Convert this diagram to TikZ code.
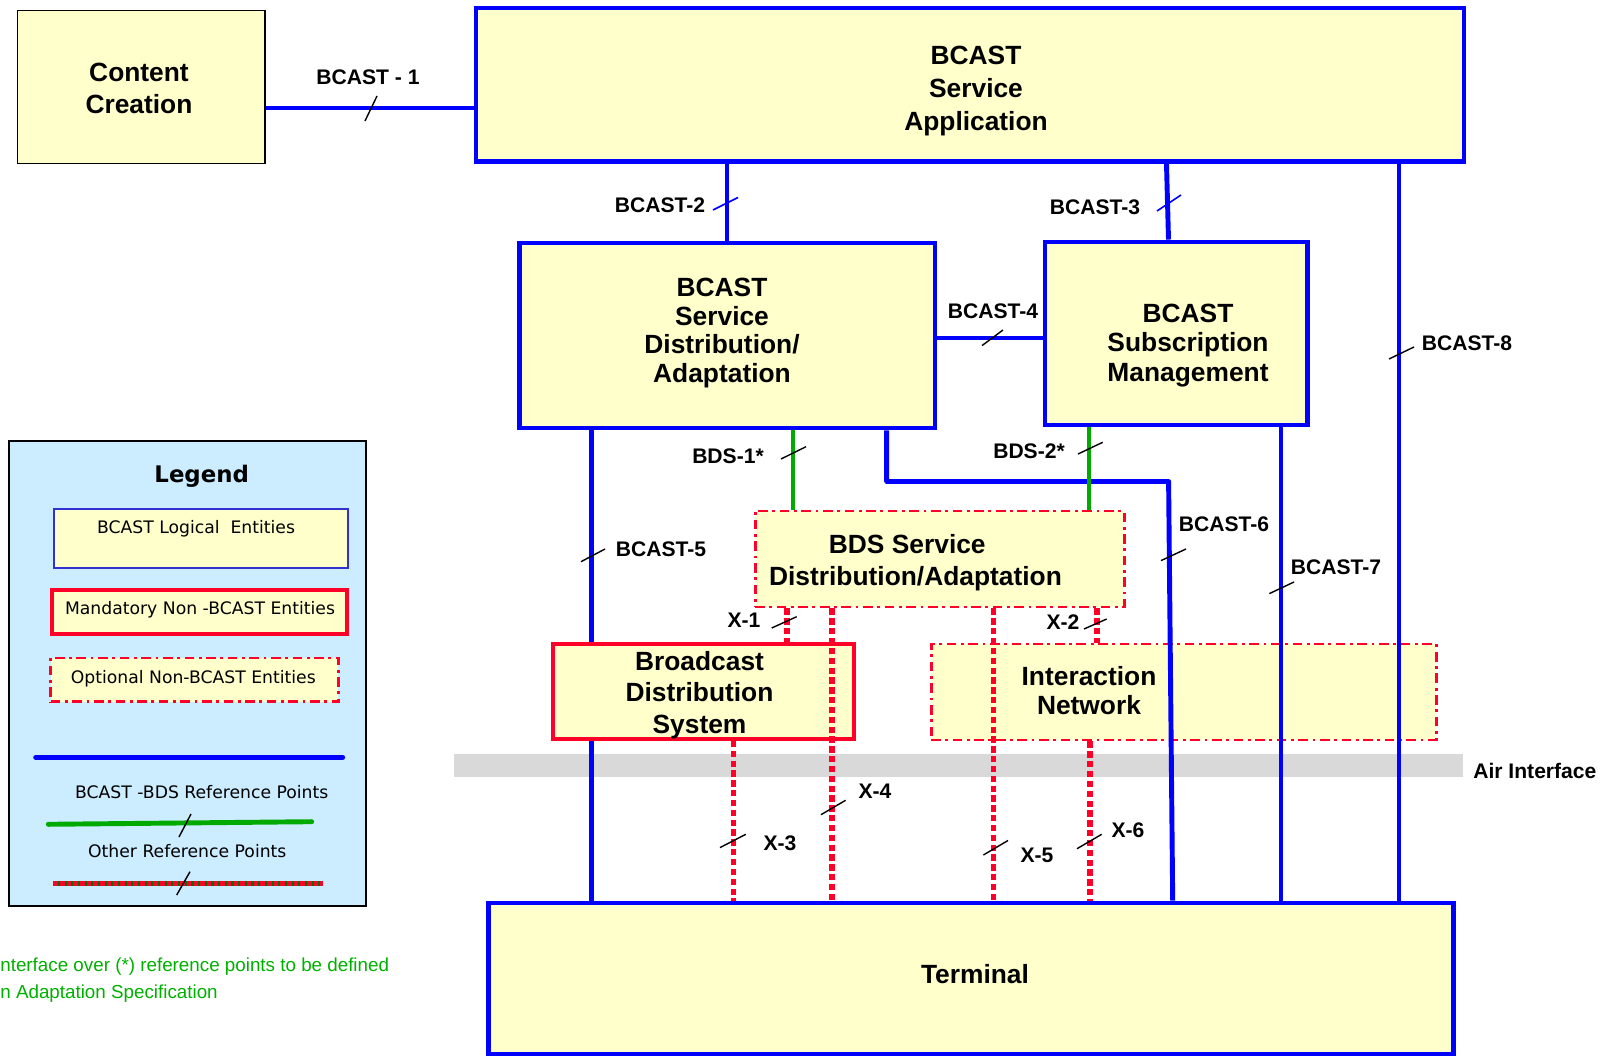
\documentclass[tikz,border=0pt]{standalone}
\usepackage{fontspec}
\setmainfont{Liberation Sans}
\newfontfamily\legfont{DejaVu Sans}
\usetikzlibrary{fit,calc}
\definecolor{bblue}{RGB}{0,0,255}
\definecolor{byel}{RGB}{255,255,204}
\definecolor{bred}{RGB}{255,0,40}
\definecolor{bgreen}{RGB}{0,170,0}
\definecolor{lgblue}{RGB}{204,236,255}
\definecolor{agray}{RGB}{217,217,217}
\definecolor{ngreen}{RGB}{0,176,0}
\definecolor{lgb}{RGB}{50,50,210}
\definecolor{dgreen}{RGB}{0,110,0}
\begin{document}
\begin{tikzpicture}[x=0.02cm,y=-0.02cm,
 ent/.style={draw=bblue, fill=byel, line width=2.8pt, inner sep=0pt},
 mand/.style={draw=bred, fill=byel, line width=2.2pt, inner sep=0pt},
 opt/.style={draw=bred, fill=byel, line width=1.7pt, dash pattern=on 5.5pt off 2.6pt on 1.6pt off 2.6pt, inner sep=0pt},
 bl/.style={draw=bblue, line width=2.8pt},
 gr/.style={draw=bgreen, line width=2.8pt},
 rd/.style={draw=bred, line width=2.9pt, dash pattern=on 3.6pt off 2pt},
 tk/.style={black, line width=0.8pt},
 lbl/.style={font=\fontsize{12}{14}\selectfont\bfseries, inner sep=0pt},
 ttl/.style={align=center, inner sep=0pt},
 legtxt/.style={font=\legfont\fontsize{9.8}{12}\selectfont, inner sep=0pt},
]
\useasboundingbox (0,0) rectangle (1613,1057);

% air interface band
\fill[agray] (454,754) rectangle (1463,777);
\node[lbl, anchor=west] (air) at (1473,770.5) {Air Interface};

% legend
\node[draw=black, fill=lgblue, line width=1.2pt, inner sep=0pt, fit={(9,441) (365.7,906)}] (leg) {};
\node[font=\legfont\bfseries\fontsize{13}{15}\selectfont, inner sep=0pt] (legt) at (201.7,476) {Legend};
\node[draw=lgb, fill=byel, line width=1.1pt, inner sep=0pt, fit={(54,508.7) (348.3,568)}] (lg1) {};
\node[legtxt] (lg1t) at (196,529) {BCAST Logical\ \ Entities};
\node[mand, fit={(52.3,590) (346.7,634)}] (lg2) {};
\node[legtxt] (lg2t) at (200,610) {Mandatory Non -BCAST Entities};
\node[opt, fit={(50.7,658) (338.3,701.7)}] (lg3) {};
\node[legtxt] (lg3t) at (193.3,678.3) {Optional Non-BCAST Entities};
\draw[bl, line cap=round] (35.7,757.3) -- (342.7,757.3);
\node[legtxt] (lg4t) at (201.7,791.7) {BCAST -BDS Reference Points};
\draw[gr, line cap=round] (48.3,824.3) -- (311.7,821.7);
\draw[tk] (179,837) -- (191,814);
\node[legtxt] (lg5t) at (187.3,850.7) {Other Reference Points};
\draw[dgreen, line width=2.6pt] (53.3,883.3) -- (323.3,883.3);
\draw[bred, line width=2.8pt, dash pattern=on 2.6pt off 1.2pt] (53.3,883.3) -- (323.3,883.3);
\draw[tk] (176.7,895) -- (190,871.7);

% footnote
\node[anchor=west, font=\fontsize{10.7}{13}\selectfont, text=ngreen, inner sep=0pt] (fn1) at (0,967) {nterface over (*) reference points to be defined};
\node[anchor=west, font=\fontsize{10.7}{13}\selectfont, text=ngreen, inner sep=0pt] (fn2) at (0,993.6) {n Adaptation Specification};

% main boxes
\node[draw=black, fill=byel, line width=1pt, inner sep=0pt, fit={(17.5,10.5) (265,163.5)}] (cc) {};
\node[ent, fit={(476,8) (1464,161.5)}] (app) {};
\node[ent, fit={(519.5,243) (935,428)}] (sda) {};
\node[ent, fit={(1045,242) (1307.5,425)}] (sub) {};
\node[opt, fit={(755,511) (1124,607)}] (bds) {};
\node[ent, fit={(488.5,903) (1453.5,1054)}] (term) {};

% BCAST-5 (under the broadcast distribution box)
\draw[bl] (sda.south -| 591.5,0) -- (term.north -| 591.5,0);
\node[mand, fit={(553,644) (854,739)}] (bdsys) {};
\node[opt, fit={(931,644) (1436,740)}] (inet) {};

% connectors
\draw[bl] (cc.east |- 0,108) -- (app.west |- 0,108);
\draw[bl] (app.south -| 727,0) -- (sda.north -| 727,0);
\draw[bl] (app.south -| 1166.5,0) -- (sub.north -| 1168.5,0);
\draw[bl] (sda.east |- 0,338) -- (sub.west |- 0,338);
\draw[bl] (app.south -| 1399,0) -- (term.north -| 1399,0);
\draw[bl] (sub.south -| 1281,0) -- (term.north -| 1281,0);
\coordinate (b6a) at (886.7,481.5);
\coordinate (b6b) at (1168.6,481.5);
\draw[bl, line join=round] (sda.south -| b6a) -- (b6a) -- (b6b) -- (term.north -| 1172.7,0);
\draw[gr] (sda.south -| 793,0) -- (bds.north -| 793,0);
\draw[gr] (sub.south -| 1089,0) -- (bds.north -| 1089,0);
\draw[rd] (bds.south -| 787,0) -- (bdsys.north -| 787,0);
\draw[rd] (bds.south -| 832,0) -- (term.north -| 832,0);
\draw[rd] (bds.south -| 993.7,0) -- (term.north -| 993.7,0);
\draw[rd] (bds.south -| 1097,0) -- (inet.north -| 1097,0);
\draw[rd] (bdsys.south -| 733.5,0) -- (term.north -| 733.5,0);
\draw[rd] (inet.south -| 1090,0) -- (term.north -| 1090,0);

% ticks
\draw[tk] (365,121) -- (377,96);
\draw[bblue, line width=0.9pt] (713,210) -- (738,197.5);
\draw[bblue, line width=0.9pt] (1157,211) -- (1181,195);
\draw[tk] (982,345.6) -- (1003,330);
\draw[tk] (1389,359) -- (1414,347);
\draw[tk] (581,561.7) -- (605,549);
\draw[tk] (1161,560.6) -- (1186,549);
\draw[tk] (1269.4,593.6) -- (1294,582);
\draw[tk] (781,459) -- (806,446.7);
\draw[tk] (1078,454) -- (1102.7,442.3);
\draw[tk] (771.7,628) -- (796.7,616.7);
\draw[tk] (1084,629) -- (1106.7,619);
\draw[tk] (720,847.6) -- (745.8,834.3);
\draw[tk] (821,814.7) -- (845.6,800.3);
\draw[tk] (983.4,855) -- (1008,840.5);
\draw[tk] (1077,848.7) -- (1101.7,834.3);

% box texts
\node[ttl, font=\fontsize{15}{18}\selectfont\bfseries] (cct) at (139,88.5) {Content\\Creation};
\node[ttl, font=\fontsize{15}{18.7}\selectfont\bfseries] (appt) at (976,91) {BCAST\\Service\\Application};
\node[ttl, font=\fontsize{15}{16.3}\selectfont\bfseries] (sdat) at (722,333) {BCAST\\Service\\Distribution/\\Adaptation};
\node[ttl, font=\fontsize{15}{16.9}\selectfont\bfseries] (subt) at (1188,345.5) {BCAST\\Subscription\\Management};
\node[ttl, font=\fontsize{15}{18}\selectfont\bfseries] (bdst) at (907.3,544) {BDS Service};
\node[ttl, font=\fontsize{15}{18}\selectfont\bfseries] (bdst2) at (915.5,578.5) {Distribution/Adaptation};
\node[ttl, font=\fontsize{15}{18.1}\selectfont\bfseries] (bdsyst) at (699.5,695) {Broadcast\\Distribution\\System};
\node[ttl, font=\fontsize{15}{16.3}\selectfont\bfseries] (inett) at (1089,690.5) {Interaction\\Network};
\node[ttl, font=\fontsize{15}{18}\selectfont\bfseries] (termt) at (975,974) {Terminal};

% reference point labels
\node[lbl] (l1) at (368,77) {BCAST - 1};
\node[lbl] (l2) at (660,205) {BCAST-2};
\node[lbl] (l3) at (1095,207) {BCAST-3};
\node[lbl] (l4) at (993,311) {BCAST-4};
\node[lbl] (l5) at (661,549) {BCAST-5};
\node[lbl] (l6) at (1224,524) {BCAST-6};
\node[lbl] (l7) at (1336,567) {BCAST-7};
\node[lbl] (l8) at (1467,343) {BCAST-8};
\node[lbl] (d1) at (728,456) {BDS-1*};
\node[lbl] (d2) at (1029,451) {BDS-2*};
\node[lbl] (x1) at (744,620) {X-1};
\node[lbl] (x2) at (1063,622) {X-2};
\node[lbl] (x3) at (780,843.5) {X-3};
\node[lbl] (x4) at (875,791) {X-4};
\node[lbl] (x5) at (1037,855) {X-5};
\node[lbl] (x6) at (1128,830) {X-6};
\end{tikzpicture}
\end{document}
